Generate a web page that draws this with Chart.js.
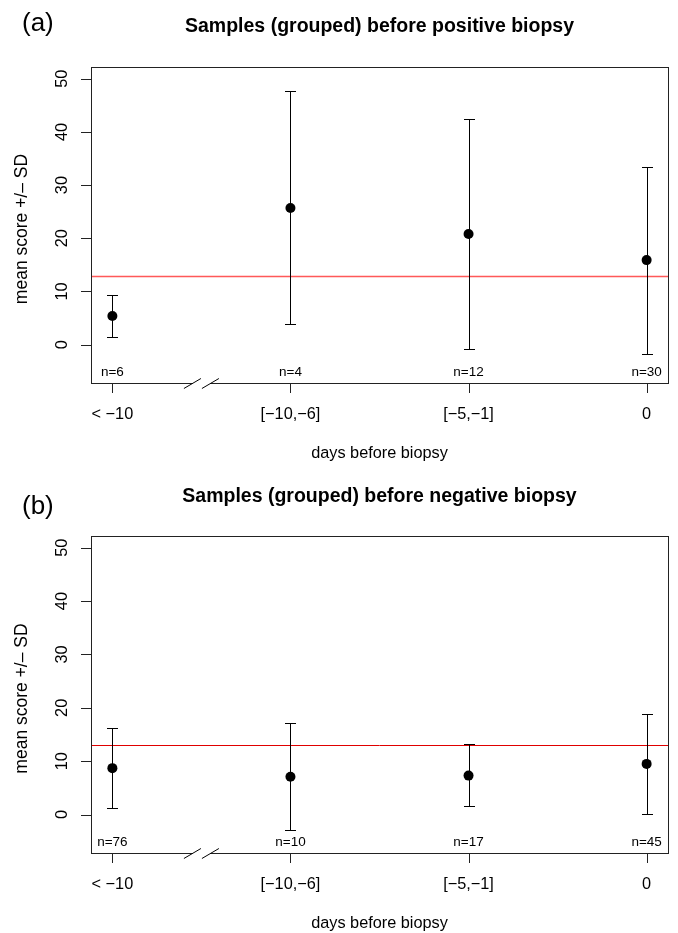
<!DOCTYPE html>
<html>
<head>
<meta charset="utf-8">
<script src="https://cdn.jsdelivr.net/npm/chart.js@4.4.1/dist/chart.umd.min.js"></script>
<style>
  html, body { margin: 0; padding: 0; background: #fff; }
  #wrap { position: relative; width: 678px; height: 933px; }
  canvas { position: absolute; left: 0; }
</style>
</head>
<body>
<div id="wrap">
  <canvas id="cA" width="678" height="469" style="top:0"></canvas>
  <canvas id="cB" width="678" height="464" style="top:469px"></canvas>
</div>
<script>
// categories (days before biopsy)
var categories = ['< \u221210', '[\u221210,\u22126]', '[\u22125,\u22121]', '0'];

// (a) positive biopsy
var posMean  = [5.4, 25.7, 20.8, 15.9];
var posLower = [1.5, 3.8, -0.9, -1.7];
var posUpper = [9.4, 47.6, 42.5, 33.4];
var posN     = [6, 4, 12, 30];

// (b) negative biopsy
var negMean  = [8.7, 7.1, 7.3, 9.5];
var negLower = [1.2, -2.9, 1.6, 0.2];
var negUpper = [16.2, 17.1, 13.2, 18.8];
var negN     = [76, 10, 17, 45];

var yTicks = [0, 10, 20, 30, 40, 50];
var refLine = 13;     // threshold line
var xBreak = 1.5;     // axis break between first and second group

var FONT = "'Liberation Sans', Arial, Helvetica, sans-serif";

function px(v) { return Math.round(v) + 0.5; }

function rStylePlugin(cfg) {
  return {
    id: 'rstyle',
    beforeDatasetsDraw: function (chart) {
      var ctx = chart.ctx, a = chart.chartArea;
      var xs = chart.scales.x, ys = chart.scales.y;
      ctx.save();
      // reference line
      var yr = px(ys.getPixelForValue(refLine));
      ctx.strokeStyle = cfg.refColor;
      ctx.lineWidth = cfg.refWidth;
      ctx.beginPath(); ctx.moveTo(a.left, yr); ctx.lineTo(a.right, yr); ctx.stroke();
      // error bars
      ctx.strokeStyle = '#000';
      ctx.lineWidth = 1;
      for (var i = 0; i < categories.length; i++) {
        var x = px(xs.getPixelForValue(i + 1));
        var yl = px(ys.getPixelForValue(cfg.lower[i]));
        var yu = px(ys.getPixelForValue(cfg.upper[i]));
        ctx.beginPath();
        ctx.moveTo(x, yl); ctx.lineTo(x, yu);
        ctx.moveTo(x - 5.5, yl); ctx.lineTo(x + 5.5, yl);
        ctx.moveTo(x - 5.5, yu); ctx.lineTo(x + 5.5, yu);
        ctx.stroke();
      }
      ctx.restore();
    },
    afterDraw: function (chart) {
      var ctx = chart.ctx, a = chart.chartArea;
      var xs = chart.scales.x, ys = chart.scales.y;
      ctx.save();
      // box
      ctx.strokeStyle = '#222';
      ctx.lineWidth = 1;
      ctx.strokeRect(px(a.left), px(a.top), Math.round(a.right - a.left), Math.round(a.bottom - a.top));

      // axis break on bottom edge
      var xb = xs.getPixelForValue(xBreak);
      var yb = px(a.bottom);
      ctx.fillStyle = '#fff';
      ctx.fillRect(xb - 9, yb - 2, 18, 4);
      ctx.strokeStyle = '#000';
      ctx.beginPath();
      ctx.moveTo(xb - 17.5, yb + 5); ctx.lineTo(xb - 0.5, yb - 5);
      ctx.moveTo(xb + 0.5, yb + 5); ctx.lineTo(xb + 17.5, yb - 5);
      ctx.stroke();

      // y ticks
      ctx.strokeStyle = '#222';
      ctx.beginPath();
      yTicks.forEach(function (t) {
        var y = px(ys.getPixelForValue(t));
        ctx.moveTo(a.left - 10, y); ctx.lineTo(a.left, y);
      });
      // x ticks
      categories.forEach(function (c, i) {
        var x = px(xs.getPixelForValue(i + 1));
        ctx.moveTo(x, a.bottom); ctx.lineTo(x, a.bottom + 10);
      });
      ctx.stroke();

      ctx.fillStyle = '#000';
      // y tick labels (rotated, R style)
      ctx.font = '16.3px ' + FONT;
      ctx.textAlign = 'center';
      ctx.textBaseline = 'middle';
      yTicks.forEach(function (t) {
        var y = ys.getPixelForValue(t);
        ctx.save();
        ctx.translate(a.left - 28, y);
        ctx.rotate(-Math.PI / 2);
        ctx.fillText(String(t), 0, 0);
        ctx.restore();
      });
      // x tick labels
      categories.forEach(function (c, i) {
        ctx.fillText(c, xs.getPixelForValue(i + 1), a.bottom + 32);
      });
      // n labels
      ctx.font = '13.5px ' + FONT;
      cfg.n.forEach(function (n, i) {
        ctx.fillText('n=' + n, xs.getPixelForValue(i + 1), a.bottom - 10.5);
      });
      // axis titles
      ctx.font = '16.3px ' + FONT;
      var cx = (a.left + a.right) / 2;
      ctx.fillText('days before biopsy', cx, a.bottom + 71);
      ctx.save();
      ctx.translate(22, (a.top + a.bottom) / 2 + 4);
      ctx.rotate(-Math.PI / 2);
      ctx.font = '17.5px ' + FONT;
      ctx.fillText('mean score +/\u2013 SD', 0, 0);
      ctx.restore();
      // main title
      ctx.font = 'bold 19.5px ' + FONT;
      ctx.fillText(cfg.title, cx, cfg.titleY);
      // panel letter
      ctx.font = '26px ' + FONT;
      ctx.textAlign = 'left';
      ctx.fillText(cfg.letter, 22, cfg.letterY);
      ctx.restore();
    }
  };
}

function makeChart(id, mean, lower, upper, n, opts) {
  var pts = categories.map(function (c, i) { return { x: i + 1, y: mean[i] }; });
  return new Chart(document.getElementById(id), {
    type: 'scatter',
    data: {
      datasets: [{
        data: pts,
        pointRadius: 5,
        pointBackgroundColor: '#000',
        pointBorderColor: '#000',
        pointBorderWidth: 0,
        clip: false
      }]
    },
    options: {
      responsive: false,
      animation: false,
      events: [],
      layout: { padding: opts.padding },
      plugins: { legend: { display: false }, tooltip: { enabled: false } },
      scales: {
        x: { type: 'linear', min: 0.88, max: 4.12, display: false },
        y: { type: 'linear', min: -7.2, max: 52.2, display: false }
      }
    },
    plugins: [rStylePlugin({
      lower: lower, upper: upper, n: n,
      title: opts.title, titleY: opts.titleY,
      letter: opts.letter, letterY: opts.letterY,
      refColor: opts.refColor, refWidth: opts.refWidth
    })]
  });
}

makeChart('cA', posMean, posLower, posUpper, posN, {
  padding: { left: 91, right: 10, top: 67, bottom: 86 },
  title: 'Samples (grouped) before positive biopsy', titleY: 27,
  letter: '(a)', letterY: 24,
  refColor: 'rgba(255,60,60,0.85)', refWidth: 1.6
});

makeChart('cB', negMean, negLower, negUpper, negN, {
  padding: { left: 91, right: 10, top: 67, bottom: 80 },
  title: 'Samples (grouped) before negative biopsy', titleY: 28,
  letter: '(b)', letterY: 38,
  refColor: '#e00000', refWidth: 1
});
</script>
</body>
</html>
